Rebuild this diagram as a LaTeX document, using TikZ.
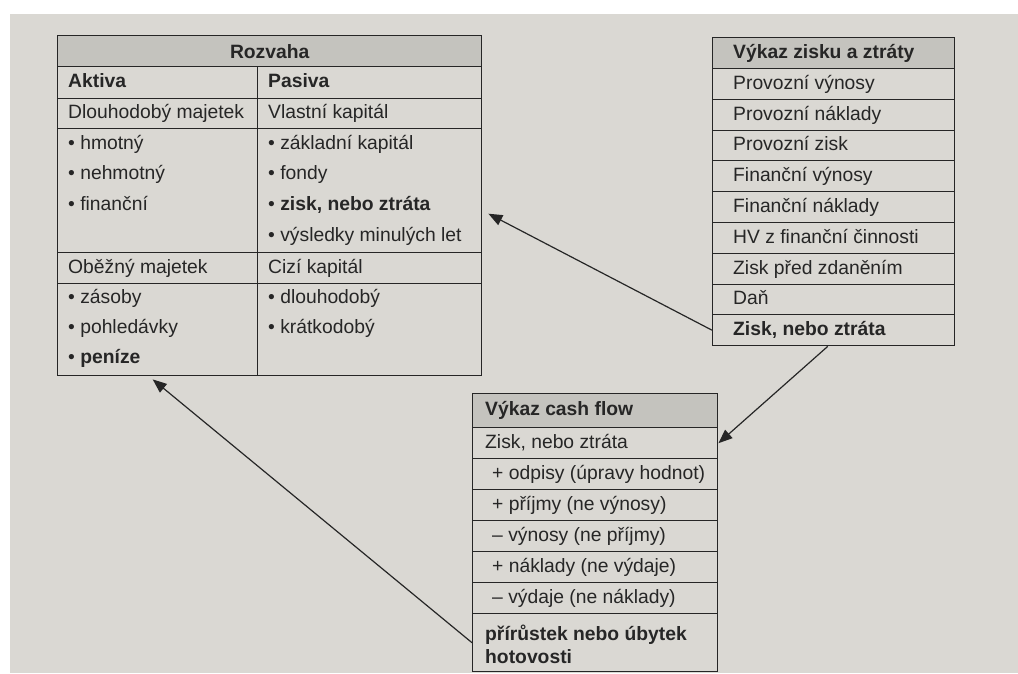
\documentclass[tikz,border=0pt]{standalone}
\usepackage{fontspec}
\setmainfont{Liberation Sans}
\usetikzlibrary{arrows.meta}

\definecolor{paper}{RGB}{218,216,211}
\definecolor{headgray}{RGB}{196,195,190}
\definecolor{ink}{RGB}{38,38,38}
\newcommand\cellfont{\fontsize{19.3}{23}\selectfont}

\begin{document}
\begin{tikzpicture}[x=1pt, y=-1pt, font=\cellfont,
  box/.style={draw=ink, line width=1.4pt, anchor=north west, inner sep=0pt},
  head/.style={box, fill=headgray},
  para/.style={anchor=west, inner sep=0pt, text=ink},
  txt/.style={para, text height=13.8pt, text depth=4.2pt},
  bold/.style={font=\cellfont\bfseries},
  link/.style={->, draw=ink, line width=1.2pt},
  >={Triangle[length=14pt, width=11pt]}]

\fill[white] (0,0) rectangle (1018,673);
\fill[paper] (10,14) rectangle (1018,673);

% Rozvaha
\node[head, bold, text=ink, minimum width=424pt, minimum height=31pt] (roz) at (57,35) {Rozvaha};
\node[box, minimum width=200pt, minimum height=32pt] (akt) at (57,66) {};
\node[box, minimum width=224pt, minimum height=32pt] (pas) at (257,66) {};
\node[box, minimum width=200pt, minimum height=30pt] (dm) at (57,98) {};
\node[box, minimum width=224pt, minimum height=30pt] (vk) at (257,98) {};
\node[box, minimum width=200pt, minimum height=124pt] (dm-list) at (57,128) {};
\node[box, minimum width=224pt, minimum height=124pt] (vk-list) at (257,128) {};
\node[box, minimum width=200pt, minimum height=31pt] (om) at (57,252) {};
\node[box, minimum width=224pt, minimum height=31pt] (ck) at (257,252) {};
\node[box, minimum width=200pt, minimum height=92pt] (om-list) at (57,283) {};
\node[box, minimum width=224pt, minimum height=92pt] (ck-list) at (257,283) {};

\node[txt, bold] (akt-t) at ([xshift=11pt]akt.west) {Aktiva};
\node[txt, bold] (pas-t) at ([xshift=11pt]pas.west) {Pasiva};
\node[txt] (dm-t) at ([xshift=11pt]dm.west) {Dlouhodobý majetek};
\node[txt] (vk-t) at ([xshift=11pt]vk.west) {Vlastní kapitál};
\node[txt] (om-t) at ([xshift=11pt]om.west) {Oběžný majetek};
\node[txt] (ck-t) at ([xshift=11pt]ck.west) {Cizí kapitál};

\node[txt] (hmot) at (68,145) {\textbullet\ hmotný};
\node[txt] (nehm) at (68,175) {\textbullet\ nehmotný};
\node[txt] (fin) at (68,206) {\textbullet\ finanční};
\node[txt] (zk) at (268,145) {\textbullet\ základní kapitál};
\node[txt] (fon) at (268,175) {\textbullet\ fondy};
\node[txt] (zis) at (268,206) {\textbullet\ \textbf{zisk, nebo ztráta}};
\node[txt] (vml) at (268,237) {\textbullet\ výsledky minulých let};
\node[txt] (zas) at (68,299) {\textbullet\ zásoby};
\node[txt] (poh) at (68,329) {\textbullet\ pohledávky};
\node[txt] (pen) at (68,359) {\textbullet\ \textbf{peníze}};
\node[txt] (dlo) at (268,299) {\textbullet\ dlouhodobý};
\node[txt] (kra) at (268,329) {\textbullet\ krátkodobý};

% Vykaz zisku a ztraty
\node[head, minimum width=242pt, minimum height=31pt] (zz0) at (712,37) {};
\node[box, minimum width=242pt, minimum height=31pt] (zz1) at (712,68) {};
\node[box, minimum width=242pt, minimum height=31pt] (zz2) at (712,99) {};
\node[box, minimum width=242pt, minimum height=30pt] (zz3) at (712,130) {};
\node[box, minimum width=242pt, minimum height=31pt] (zz4) at (712,160) {};
\node[box, minimum width=242pt, minimum height=31pt] (zz5) at (712,191) {};
\node[box, minimum width=242pt, minimum height=31pt] (zz6) at (712,222) {};
\node[box, minimum width=242pt, minimum height=31pt] (zz7) at (712,253) {};
\node[box, minimum width=242pt, minimum height=30pt] (zz8) at (712,284) {};
\node[box, minimum width=242pt, minimum height=31pt] (zz9) at (712,314) {};

\node[txt, bold] (zz0-t) at ([xshift=21pt]zz0.west) {Výkaz zisku a ztráty};
\node[txt] (zz1-t) at ([xshift=21pt]zz1.west) {Provozní výnosy};
\node[txt] (zz2-t) at ([xshift=21pt]zz2.west) {Provozní náklady};
\node[txt] (zz3-t) at ([xshift=21pt]zz3.west) {Provozní zisk};
\node[txt] (zz4-t) at ([xshift=21pt]zz4.west) {Finanční výnosy};
\node[txt] (zz5-t) at ([xshift=21pt]zz5.west) {Finanční náklady};
\node[txt] (zz6-t) at ([xshift=21pt]zz6.west) {HV z finanční činnosti};
\node[txt] (zz7-t) at ([xshift=21pt]zz7.west) {Zisk před zdaněním};
\node[txt] (zz8-t) at ([xshift=21pt]zz8.west) {Daň};
\node[txt, bold] (zz9-t) at ([xshift=21pt]zz9.west) {Zisk, nebo ztráta};

% Vykaz cash flow
\node[head, minimum width=245pt, minimum height=34pt] (cf0) at (472,393) {};
\node[box, minimum width=245pt, minimum height=31pt] (cf1) at (472,427) {};
\node[box, minimum width=245pt, minimum height=31pt] (cf2) at (472,458) {};
\node[box, minimum width=245pt, minimum height=31pt] (cf3) at (472,489) {};
\node[box, minimum width=245pt, minimum height=31pt] (cf4) at (472,520) {};
\node[box, minimum width=245pt, minimum height=31pt] (cf5) at (472,551) {};
\node[box, minimum width=245pt, minimum height=31pt] (cf6) at (472,582) {};
\node[box, minimum width=245pt, minimum height=58pt] (cf7) at (472,613) {};

\node[txt, bold] (cf0-t) at ([xshift=13pt]cf0.west) {Výkaz cash flow};
\node[txt] (cf1-t) at ([xshift=13pt]cf1.west) {Zisk, nebo ztráta};
\node[txt] (cf2-t) at ([xshift=20pt]cf2.west) {+ odpisy (úpravy hodnot)};
\node[txt] (cf3-t) at ([xshift=20pt]cf3.west) {+ příjmy (ne výnosy)};
\node[txt] (cf4-t) at ([xshift=20pt]cf4.west) {– výnosy (ne příjmy)};
\node[txt] (cf5-t) at ([xshift=20pt]cf5.west) {+ náklady (ne výdaje)};
\node[txt] (cf6-t) at ([xshift=20pt]cf6.west) {– výdaje (ne náklady)};
\node[para, bold, align=left] (cf7-t) at ([shift={(13,2)}]cf7.west) {přírůstek nebo úbytek\\hotovosti};

% vazby
\draw[link] (zz9.west) -- ([shift={(6,23)}]vk-list.east);
\draw[link] ([xshift=-6pt]zz9.south) -- (cf1.east);
\draw[link] (cf7.west) -- ([shift={(-5,3)}]om-list.south);
\end{tikzpicture}
\end{document}
